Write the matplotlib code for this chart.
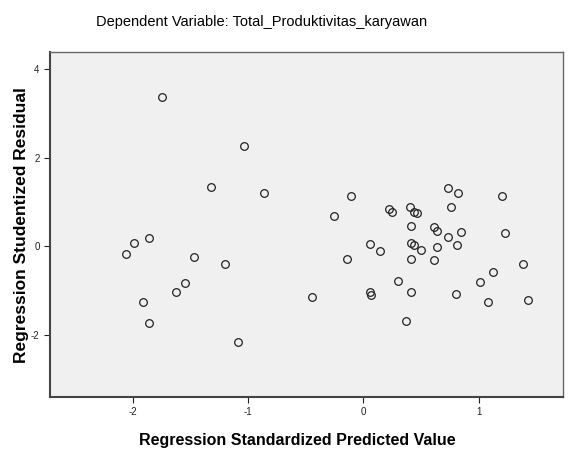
import numpy as np
import matplotlib.pyplot as plt

plt.rcParams['font.family'] = ['Liberation Sans', 'DejaVu Sans']
plt.rcParams['axes.unicode_minus'] = False

# standardized predicted value (x) and studentized residual (y)
pred = [-1.75, -1.04, -1.32, -0.86, -2.06, -1.99, -1.86, -1.47, -1.20, -1.55,
        -1.63, -1.91, -1.86, -1.09,
        -0.11, -0.26, 0.22, 0.25, 0.40, 0.44, 0.46, 0.73, 0.82, 0.76,
        1.20, 0.41, 0.61, 0.64, 0.73, 0.85, 1.23, 0.055, 0.14, 0.41,
        0.44, 0.50, 0.64, 0.81, -0.14, 0.41, 0.61, 1.38, 1.12, 1.01,
        0.30, -0.45, 0.055, 0.067, 0.41, 0.80, 1.08, 1.43, 0.37]
resid = [3.37, 2.26, 1.33, 1.20, -0.18, 0.07, 0.18, -0.25, -0.41, -0.84,
         -1.05, -1.26, -1.75, -2.17,
         1.14, 0.68, 0.84, 0.77, 0.89, 0.76, 0.74, 1.32, 1.20, 0.88,
         1.12, 0.46, 0.43, 0.35, 0.21, 0.32, 0.30, 0.05, -0.11, 0.07,
         0.02, -0.09, -0.02, 0.03, -0.30, -0.30, -0.32, -0.40, -0.59, -0.81,
         -0.80, -1.16, -1.05, -1.11, -1.03, -1.09, -1.27, -1.23, -1.69]

xticks = [-2, -1, 0, 1]
yticks = [-2, 0, 2, 4]

fig = plt.figure(figsize=(5.68, 4.5), dpi=100)
ax = fig.add_axes([0.088, 0.118, 0.903, 0.766])
ax.set_facecolor('#f0f0f0')

ax.plot(pred, resid, 'o', markersize=5.5, markerfacecolor='none',
        markeredgecolor='#222222', markeredgewidth=0.9)

ax.set_xlim(-2.72, 1.73)
ax.set_ylim(-3.41, 4.38)
ax.set_xticks(xticks)
ax.set_yticks(yticks)
ax.tick_params(direction='out', length=4, width=0.8, labelsize=7, colors='#222222')

for s in ['top', 'right']:
    ax.spines[s].set_color('#666666')
    ax.spines[s].set_linewidth(1.0)
for s in ['left', 'bottom']:
    ax.spines[s].set_color('#444444')
    ax.spines[s].set_linewidth(1.5)

fig.text(0.46, 0.951, 'Dependent Variable: Total_Produktivitas_karyawan',
         ha='center', va='center', fontsize=10.5)
fig.text(0.523, 0.022, 'Regression Standardized Predicted Value',
         ha='center', va='center', fontsize=11.5, fontweight='bold')
fig.text(0.038, 0.5, 'Regression Studentized Residual', rotation=90,
         ha='center', va='center', fontsize=12.5, fontweight='bold')

fig.savefig('out.png', dpi=100)
